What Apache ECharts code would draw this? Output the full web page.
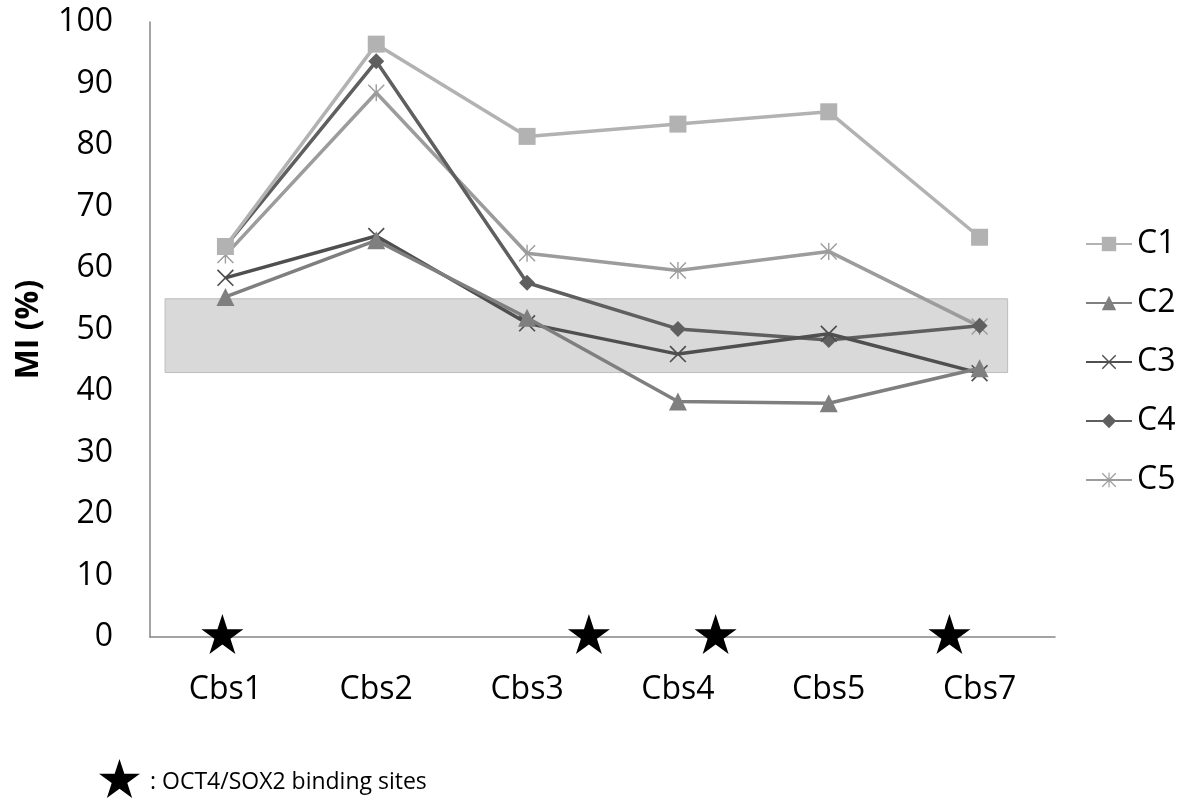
<!DOCTYPE html>
<html>
<head>
<meta charset="utf-8">
<script src="https://cdn.jsdelivr.net/npm/echarts@6/dist/echarts.min.js"></script>
<style>html,body{margin:0;padding:0;background:#fff;}#c{width:1186px;height:805px;}</style>
</head>
<body>
<div id="c"></div>
<script>
const categories = ['Cbs1', 'Cbs2', 'Cbs3', 'Cbs4', 'Cbs5', 'Cbs7'];
const seriesNames = ['C1', 'C2', 'C3', 'C4', 'C5'];
const c1 = [63.5, 96.4, 81.4, 83.4, 85.4, 65.0];
const c2 = [55.3, 64.5, 51.9, 38.3, 38.0, 43.7];
const c3 = [58.4, 65.2, 51.0, 46.0, 49.3, 42.9];
const c4 = [63.5, 93.6, 57.6, 50.1, 48.3, 50.6];
const c5 = [62.1, 88.5, 62.4, 59.6, 62.7, 50.5];
const yTicks = [0, 100, 10];
// binding-site stars, positions measured in category-band units along the x axis
const starPositions = [0.48, 2.91, 3.75, 5.30];
// shaded reference band: [x from, x to] in band units, [y from, y to] in %
const bandX = [0.1, 5.686];
const bandY = [43, 55];
const noteText = ': OCT4/SOX2 binding sites';

const starPts = [[50,0],[61.23,34.55],[97.55,34.55],[68.16,55.9],[79.39,90.45],[50,69.1],[20.61,90.45],[31.84,55.9],[2.45,34.55],[38.77,34.55]];
const starPath = 'M' + starPts.map(p => p[0] + ' ' + p[1]).join(' L') + ' Z';
const xPath = 'path://M0 7 L7 0 L100 93 L93 100 Z M93 0 L100 7 L7 100 L0 93 Z';
const astPath = 'path://M0 6 L6 0 L100 94 L94 100 Z M94 0 L100 6 L6 100 L0 94 Z M46 0 L54 0 L54 100 L46 100 Z';

const FONT = 'Open Sans';
const FS = 32;
const styles = [
  {color: '#b2b2b2', symbol: 'rect', size: 17},
  {color: '#7f7f7f', symbol: 'triangle', size: 18},
  {color: '#4f4f4f', symbol: xPath, size: 17},
  {color: '#5f5f5f', symbol: 'diamond', size: 16},
  {color: '#9c9c9c', symbol: astPath, size: 17}
];
const values = [c1, c2, c3, c4, c5];

const lineSeries = values.map((v, i) => ({
  name: seriesNames[i],
  type: 'line',
  data: v,
  z: 3 + (4 - i) * 0.1,
  symbol: styles[i].symbol,
  symbolSize: styles[i].size,
  showAllSymbol: true,
  lineStyle: {color: styles[i].color, width: 3.5},
  itemStyle: {color: styles[i].color, opacity: 1},
  animation: false
}));

const noteStar = starPts.map(p => [98 + p[0] * 0.43, 759 + p[1] * 0.43]);

const chart = echarts.init(document.getElementById('c'), null, {renderer: 'canvas'});
chart.setOption({
  animation: false,
  backgroundColor: '#ffffff',
  grid: {left: 150, right: 131, top: 22, bottom: 168, containLabel: false},
  legend: {
    orient: 'vertical',
    left: 1080,
    top: 223,
    itemWidth: 46,
    itemHeight: 18,
    itemGap: 27,
    data: seriesNames,
    textStyle: {fontFamily: FONT, fontSize: FS, color: '#000', lineHeight: 32}
  },
  xAxis: [
    {
      type: 'category',
      data: categories,
      boundaryGap: true,
      axisLine: {show: true, lineStyle: {color: '#868686', width: 1.5}},
      axisTick: {show: false},
      axisLabel: {fontFamily: FONT, fontSize: FS, color: '#000', margin: 37},
      splitLine: {show: false}
    },
    {type: 'value', min: 0, max: categories.length, show: false}
  ],
  yAxis: {
    type: 'value',
    min: yTicks[0], max: yTicks[1], interval: yTicks[2],
    name: 'MI (%)',
    nameLocation: 'middle',
    nameGap: 105,
    nameRotate: 90,
    nameTextStyle: {fontFamily: FONT, fontSize: 32, fontWeight: 'bold', color: '#000'},
    axisLine: {show: true, lineStyle: {color: '#868686', width: 1.5}},
    axisTick: {show: false},
    axisLabel: {fontFamily: FONT, fontSize: FS, color: '#000', margin: 37},
    splitLine: {show: false}
  },
  series: [
    {
      name: 'band',
      type: 'scatter',
      xAxisIndex: 1,
      data: [],
      z: 1,
      silent: true,
      markArea: {
        silent: true,
        itemStyle: {color: '#d9d9d9', borderColor: '#bdbdbd', borderWidth: 1, opacity: 1},
        data: [[{xAxis: bandX[0], yAxis: bandY[1]}, {xAxis: bandX[1], yAxis: bandY[0]}]]
      }
    },
    ...lineSeries,
    {
      name: 'stars',
      type: 'scatter',
      xAxisIndex: 1,
      data: starPositions.map(p => [p, 0]),
      symbol: 'path://' + starPath,
      symbolSize: [42, 40],
      symbolOffset: [0, -3],
      itemStyle: {color: '#000', opacity: 1},
      clip: false,
      z: 10,
      silent: true
    }
  ],
  graphic: [
    {
      type: 'polygon',
      shape: {points: noteStar},
      style: {fill: '#000'}
    },
    {
      type: 'text',
      left: 150,
      top: 771,
      style: {text: noteText, font: '23px "Open Sans"', fill: '#000'}
    }
  ]
});
</script>
</body>
</html>
